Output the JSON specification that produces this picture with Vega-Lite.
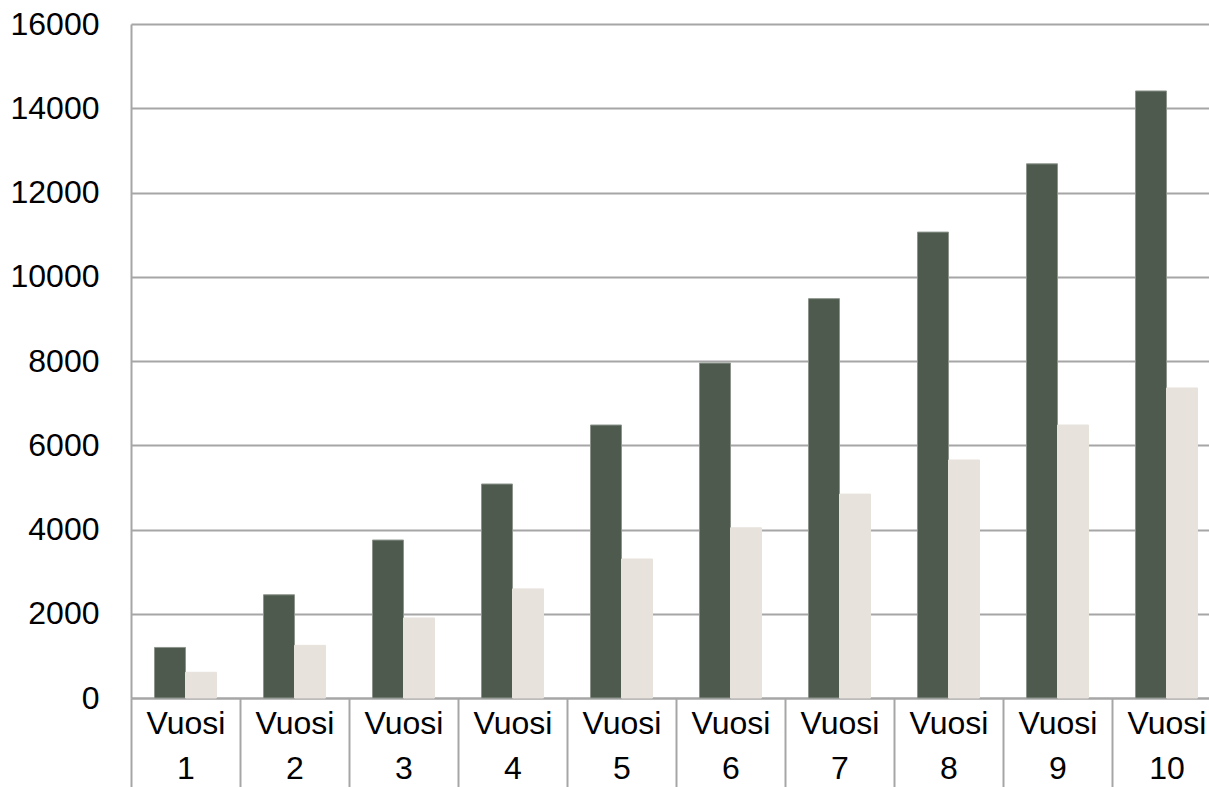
{
  "$schema": "https://vega.github.io/schema/vega-lite/v6.json",
  "width": 1090,
  "height": 674,
  "autosize": {"type": "none"},
  "padding": {"left": 131, "top": 24, "right": 0, "bottom": 89},
  "background": "white",
  "data": {
    "values": [
      {"year": "Vuosi 1", "series": "A", "value": 1200},
      {"year": "Vuosi 1", "series": "B", "value": 610},
      {"year": "Vuosi 2", "series": "A", "value": 2450},
      {"year": "Vuosi 2", "series": "B", "value": 1250},
      {"year": "Vuosi 3", "series": "A", "value": 3750},
      {"year": "Vuosi 3", "series": "B", "value": 1900},
      {"year": "Vuosi 4", "series": "A", "value": 5080},
      {"year": "Vuosi 4", "series": "B", "value": 2590},
      {"year": "Vuosi 5", "series": "A", "value": 6480},
      {"year": "Vuosi 5", "series": "B", "value": 3300},
      {"year": "Vuosi 6", "series": "A", "value": 7950},
      {"year": "Vuosi 6", "series": "B", "value": 4040},
      {"year": "Vuosi 7", "series": "A", "value": 9480},
      {"year": "Vuosi 7", "series": "B", "value": 4840},
      {"year": "Vuosi 8", "series": "A", "value": 11060},
      {"year": "Vuosi 8", "series": "B", "value": 5650},
      {"year": "Vuosi 9", "series": "A", "value": 12680},
      {"year": "Vuosi 9", "series": "B", "value": 6480},
      {"year": "Vuosi 10", "series": "A", "value": 14410},
      {"year": "Vuosi 10", "series": "B", "value": 7360}
    ]
  },
  "mark": {"type": "bar", "strokeWidth": 1},
  "encoding": {
    "x": {
      "field": "year",
      "type": "nominal",
      "sort": null,
      "scale": {"paddingInner": 0, "paddingOuter": 0},
      "axis": {
        "title": null,
        "labelAngle": 0,
        "labelExpr": "split(datum.label, ' ')",
        "labelFont": "Liberation Sans",
        "labelFontSize": 32,
        "labelLineHeight": 45,
        "labelColor": "#000000",
        "labelPadding": -82,
        "labelBaseline": "top",
        "domain": true,
        "domainColor": "#a6a6a6",
        "domainWidth": 2,
        "ticks": true,
        "tickBand": "extent",
        "tickSize": 92,
        "tickColor": "#a6a6a6",
        "tickWidth": 2,
        "grid": false
      }
    },
    "xOffset": {
      "field": "series",
      "type": "nominal",
      "scale": {"paddingInner": 0, "paddingOuter": 0.758}
    },
    "y": {
      "field": "value",
      "type": "quantitative",
      "scale": {"domain": [0, 16000], "nice": false},
      "axis": {
        "title": null,
        "values": [0, 2000, 4000, 6000, 8000, 10000, 12000, 14000, 16000],
        "format": "d",
        "labelFont": "Liberation Sans",
        "labelFontSize": 32,
        "labelColor": "#000000",
        "labelBaseline": "middle",
        "labelPadding": 32,
        "ticks": false,
        "domain": true,
        "domainColor": "#a6a6a6",
        "domainWidth": 2,
        "grid": true,
        "gridColor": "#a6a6a6",
        "gridWidth": 2
      }
    },
    "color": {
      "field": "series",
      "type": "nominal",
      "scale": {"domain": ["A", "B"], "range": ["#4f5a4e", "#e7e2dc"]},
      "legend": null
    },
    "stroke": {
      "field": "series",
      "type": "nominal",
      "scale": {"domain": ["A", "B"], "range": ["#8c948b", "#e7e2dc"]},
      "legend": null
    }
  },
  "config": {"view": {"stroke": null}}
}
